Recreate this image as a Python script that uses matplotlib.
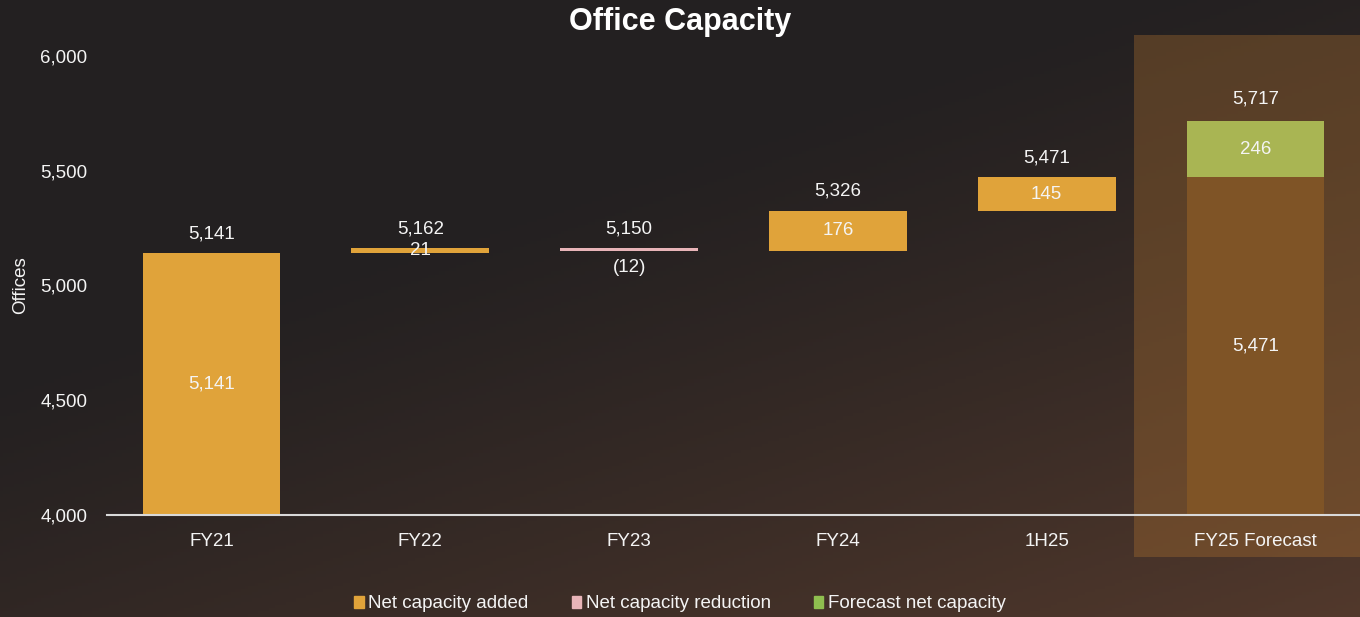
# Office capacity waterfall chart
import numpy as np
import matplotlib.pyplot as plt
from matplotlib.patches import Rectangle, Patch

plt.rcParams['font.family'] = ['Liberation Sans', 'DejaVu Sans']

categories = ["FY21", "FY22", "FY23", "FY24", "1H25", "FY25 Forecast"]
changes = [5141, 21, -12, 176, 145]
forecast_base = 5471
forecast_add = 246
totals = [5141, 5162, 5150, 5326, 5471, 5717]
legend_labels = ["Net capacity added", "Net capacity reduction", "Forecast net capacity"]

c_add = "#e0a33a"
c_red = "#e8b4b8"
c_fc = "#a9b553"
c_fc_legend = "#8fbf4f"
c_base = "#7f5426"
txt = "#f4f4f4"

ymin, ymax = 4000, 6000

fig = plt.figure(figsize=(13.6, 6.17), dpi=100)

# dark brownish background
bg = fig.add_axes([0, 0, 1, 1], zorder=-10)
yy, xx = np.mgrid[0:1:200j, 0:1:400j]
w = np.clip(0.55 * xx + 0.75 * yy - 0.45, 0, 1) ** 1.2
c0 = np.array([0x23, 0x20, 0x21]) / 255
c1 = np.array([0x5c, 0x3e, 0x2e]) / 255
img = c0[None, None, :] * (1 - w[..., None]) + c1[None, None, :] * w[..., None]
bg.imshow(img, aspect='auto', extent=[0, 1, 0, 1])
bg.axis('off')

# highlight box behind forecast column
fig.patches.append(Rectangle((1134 / 1360, 1 - 557 / 617), 226 / 1360, 522 / 617,
                             transform=fig.transFigure, facecolor="#b17331",
                             alpha=0.35, edgecolor='none', zorder=-5))

ax = fig.add_axes([107 / 1360, 1 - 515 / 617, 1 - 107 / 1360, (515 - 56) / 617])
ax.set_facecolor('none')

x = np.arange(len(categories))
bw = 0.66

# waterfall steps
level = ymin
for i, ch in enumerate(changes):
    if i == 0:
        bottom, height = ymin, ch - ymin
        level = ch
    elif ch >= 0:
        bottom, height = level, ch
        level += ch
    else:
        bottom, height = level + ch, -ch
        level += ch
    color = c_add if ch >= 0 else c_red
    ax.bar(x[i], height, bw, bottom=bottom, color=color, zorder=3)

    # value labels
    if i == 0:
        ax.text(x[i], (ymin + ch) / 2, f"{ch:,}", ha='center', va='center', color=txt, fontsize=13.5)
    elif ch < 0:
        ax.annotate(f"({-ch})", (x[i], bottom), xytext=(0, -12), textcoords='offset points',
                    ha='center', va='center', color=txt, fontsize=13.5)
    else:
        ax.text(x[i], bottom + height / 2, f"{ch:,}", ha='center', va='center', color=txt, fontsize=13.5, zorder=4)
    ax.annotate(f"{totals[i]:,}", (x[i], max(bottom + height, level)), xytext=(0, 14),
                textcoords='offset points', ha='center', va='center', color=txt, fontsize=13.5)

# forecast column
i = len(categories) - 1
ax.bar(x[i], forecast_base - ymin, bw, bottom=ymin, color=c_base, zorder=3)
ax.bar(x[i], forecast_add, bw, bottom=forecast_base, color=c_fc, zorder=3)
ax.text(x[i], (ymin + forecast_base) / 2, f"{forecast_base:,}", ha='center', va='center', color=txt, fontsize=13.5)
ax.text(x[i], forecast_base + forecast_add / 2, f"{forecast_add:,}", ha='center', va='center', color=txt, fontsize=13.5)
ax.annotate(f"{totals[i]:,}", (x[i], forecast_base + forecast_add), xytext=(0, 16),
            textcoords='offset points', ha='center', va='center', color=txt, fontsize=13.5)

ax.set_xlim(-0.5, len(categories) - 0.5)
ax.set_ylim(ymin, ymax)
ax.set_yticks(np.arange(4000, 6001, 500))
ax.set_yticklabels([f"{v:,}" for v in np.arange(4000, 6001, 500)])
ax.set_xticks(x)
ax.set_xticklabels(categories)
ax.tick_params(length=0, colors=txt, labelsize=13.5)
ax.tick_params(axis='x', pad=13)
ax.tick_params(axis='y', pad=14)
for s in ['top', 'right', 'left']:
    ax.spines[s].set_visible(False)
ax.spines['bottom'].set_color('#d9d9d9')
ax.spines['bottom'].set_linewidth(1.5)
ax.spines['bottom'].set_zorder(5)
ax.set_ylabel("Offices", color=txt, fontsize=13.5)
ax.yaxis.set_label_coords(-0.062, 0.5)

fig.text(0.5, 1 - 22 / 617, "Office Capacity", ha='center', va='center',
         color='white', fontsize=22, fontweight='bold')

handles = [Patch(color=c_add), Patch(color=c_red), Patch(color=c_fc_legend)]
fig.legend(handles, legend_labels, loc='center', bbox_to_anchor=(0.5, 1 - 604 / 617),
           ncol=3, frameon=False, handlelength=0.5, handleheight=0.6, handletextpad=0.25,
           columnspacing=2.3, fontsize=13.5, labelcolor=txt)

fig.savefig("out.png", dpi=100)
